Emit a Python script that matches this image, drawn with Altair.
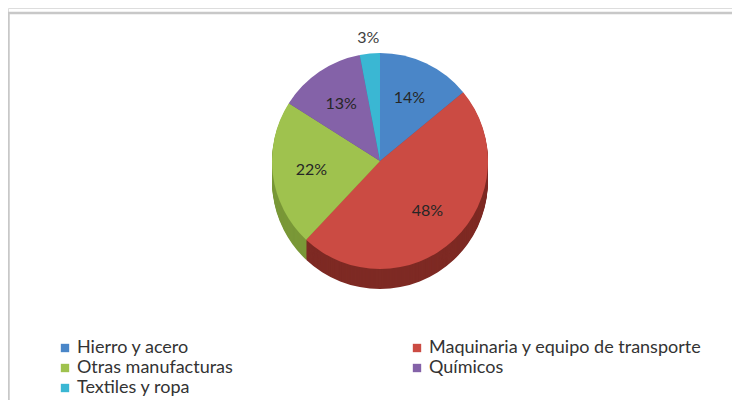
import altair as alt
import pandas as pd

categories = ["Hierro y acero", "Maquinaria y equipo de transporte", "Otras manufacturas", "Químicos", "Textiles y ropa"]
values = [14, 48, 22, 13, 3]
top_colors = ["#4a86c8", "#cb4b43", "#9fc24e", "#8462a8", "#3ab7d3"]
side_colors = ["#35659a", "#7e2a24", "#7a9838", "#614a82", "#2a8ba3"]

df = pd.DataFrame({
    "cat": categories,
    "val": values,
    "idx": list(range(len(categories))),
    "side": side_colors,
})
df["pct"] = [f"{v}%" for v in values]
df["lab_in"] = [p if v >= 5 else "" for p, v in zip(df["pct"], values)]
df["lab_out"] = [p if v < 5 else "" for p, v in zip(df["pct"], values)]

# legend is laid out column by column: reorder so rows read as in the original
legend_order = [0, 2, 4, 1, 3]
leg_domain = [categories[i] for i in legend_order]
leg_range = [top_colors[i] for i in legend_order]

W, H = 724, 392
CX, CY, R, DEPTH = 372, 153, 108, 20
FONT = "Lato"

base = alt.Chart(df)
theta = alt.Theta("val:Q", stack=True)
order = alt.Order("idx:Q", sort="ascending")

layers = []
frame_top = alt.Chart(pd.DataFrame({"a": [0]})).mark_rule(color="#c8c8c8", strokeWidth=2.5).encode(
    x=alt.value(0), x2=alt.value(W), y=alt.value(5))
frame_left = alt.Chart(pd.DataFrame({"a": [0]})).mark_rule(color="#c8c8c8", strokeWidth=2.5).encode(
    x=alt.value(0.5), y=alt.value(5), y2=alt.value(H))
layers += [frame_top, frame_left]

for d in range(DEPTH, 0, -1):
    layers.append(
        base.mark_arc(outerRadius=R, strokeWidth=0).encode(
            theta=theta, order=order,
            fill=alt.Fill("side:N", scale=None, legend=None),
            x=alt.value(CX), y=alt.value(CY + d),
        )
    )

top = base.mark_arc(outerRadius=R, strokeWidth=0).encode(
    theta=theta, order=order,
    color=alt.Color("cat:N", scale=alt.Scale(domain=leg_domain, range=leg_range),
                    sort=leg_domain,
                    legend=alt.Legend(title=None, orient="none", legendX=48, legendY=331,
                                      columns=2, columnPadding=175, rowPadding=2,
                                      symbolType="square", symbolSize=70, symbolStrokeWidth=0,
                                      labelFont=FONT, labelFontSize=18, labelColor="#333333",
                                      labelLimit=400, symbolOffset=0, labelOffset=3)),
    x=alt.value(CX), y=alt.value(CY),
)
layers.append(top)

lab_in = base.mark_text(radius=R * 0.64, font=FONT, fontSize=16, color="#262626").encode(
    theta=theta, order=order, text="lab_in:N", x=alt.value(CX), y=alt.value(CY))
lab_out = base.mark_text(radius=R + 16, font=FONT, fontSize=16, color="#404040").encode(
    theta=theta, order=order, text="lab_out:N", x=alt.value(CX), y=alt.value(CY))
layers += [lab_in, lab_out]

chart = alt.layer(*layers).properties(
    width=W, height=H,
    autosize=alt.AutoSizeParams(type="none"),
    padding=0,
).configure_view(stroke=None).configure(background="white")

chart.save("out.html", embed_options={"renderer": "svg", "actions": False})
